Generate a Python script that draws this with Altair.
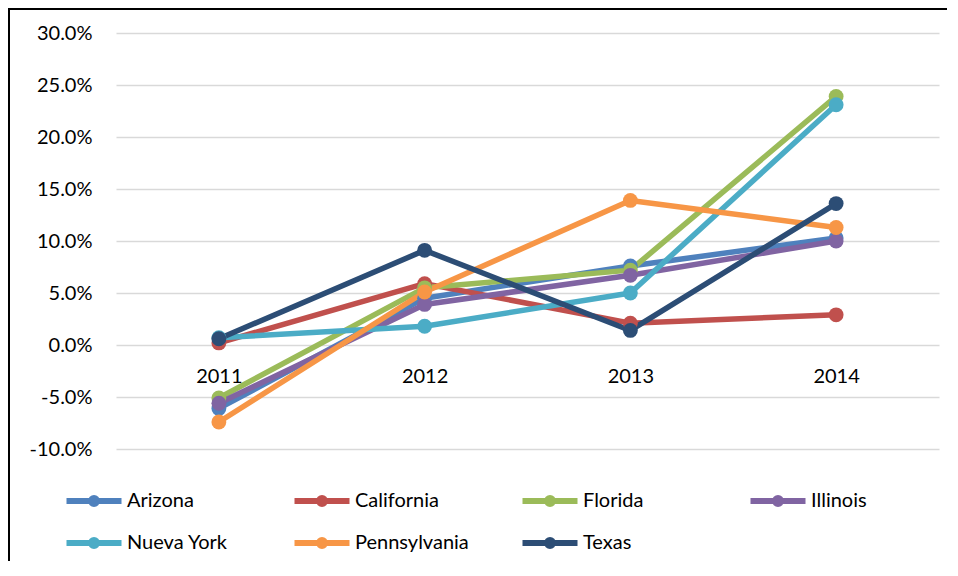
import altair as alt
import pandas as pd

years = ["2011", "2012", "2013", "2014"]
states = ["Arizona", "California", "Florida", "Illinois", "Nueva York", "Pennsylvania", "Texas"]
arizona = [-6.1, 4.5, 7.6, 10.3]
california = [0.2, 5.9, 2.1, 2.9]
florida = [-5.1, 5.5, 7.2, 23.9]
illinois = [-5.6, 3.9, 6.7, 10.0]
nueva_york = [0.7, 1.8, 5.0, 23.1]
pennsylvania = [-7.4, 5.1, 13.9, 11.3]
texas = [0.6, 9.1, 1.4, 13.6]
colors = ["#4F81BD", "#C0504D", "#9BBB59", "#8064A2", "#4BACC6", "#F79646", "#2C4D75"]

series = [arizona, california, florida, illinois, nueva_york, pennsylvania, texas]
rows = []
for s, vals in zip(states, series):
    for y, v in zip(years, vals):
        rows.append({"Estado": s, "Año": y, "Valor": v / 100.0})
df = pd.DataFrame(rows)

FONT = "Lato"
W, H = 823, 416
PAD = {"left": 108, "top": 25, "right": 8, "bottom": 112}

legend_symbol = "M-5.5,0H5.5M0.6,0A0.6,0.6,0,1,1,-0.6,0A0.6,0.6,0,1,1,0.6,0"

lines = alt.Chart(df).mark_line(
    strokeWidth=5.5, strokeCap="round", strokeJoin="round",
    point=alt.OverlayMarkDef(filled=True, size=220, opacity=1),
).encode(
    x=alt.X("Año:O", sort=years, title=None,
            scale=alt.Scale(type="point", padding=0.5),
            axis=alt.Axis(labelAngle=0, domain=False, ticks=False, tickSize=0, grid=False,
                          labelPadding=21, offset=-104, labelFont=FONT, labelFontSize=20,
                          labelColor="#000000")),
    y=alt.Y("Valor:Q", title=None,
            scale=alt.Scale(domain=[-0.1, 0.3], nice=False, zero=False),
            axis=alt.Axis(format=".1%", values=[-0.1, -0.05, 0, 0.05, 0.1, 0.15, 0.2, 0.25, 0.3],
                          labelExpr="replace(datum.label, '\u2212', '-')",
                          domain=False, ticks=False, tickSize=0, labelPadding=24,
                          gridColor="#D9D9D9", gridWidth=1.5, labelFont=FONT, labelFontSize=20,
                          labelColor="#000000")),
    color=alt.Color("Estado:N", sort=states,
                    scale=alt.Scale(domain=states, range=colors),
                    legend=alt.Legend(title=None, orient="none", legendX=-32, legendY=458,
                                      direction="horizontal", columns=4, gridAlign="all",
                                      columnPadding=41, rowPadding=12, padding=0,
                                      symbolType=legend_symbol, symbolSize=100,
                                      symbolStrokeWidth=6, labelOffset=23,
                                      labelFont=FONT, labelFontSize=20, labelColor="#000000",
                                      labelLimit=300)),
    order=alt.Order("Año:O"),
)

one = pd.DataFrame({"k": [0]})
frame_left = alt.Chart(one).mark_rule(color="#000000", strokeWidth=2).encode(
    x=alt.value(-107), y=alt.value(-25), y2=alt.value(H + PAD["bottom"]))
frame_top = alt.Chart(one).mark_rule(color="#000000", strokeWidth=2).encode(
    x=alt.value(-108), x2=alt.value(W + PAD["right"]), y=alt.value(-24))

chart = alt.layer(lines, frame_left, frame_top).properties(
    width=W, height=H, padding=PAD, autosize=alt.AutoSizeParams(type="none"),
    background="white",
).configure_view(stroke=None)

chart.save("out.html", embed_options={"renderer": "svg", "actions": False})
